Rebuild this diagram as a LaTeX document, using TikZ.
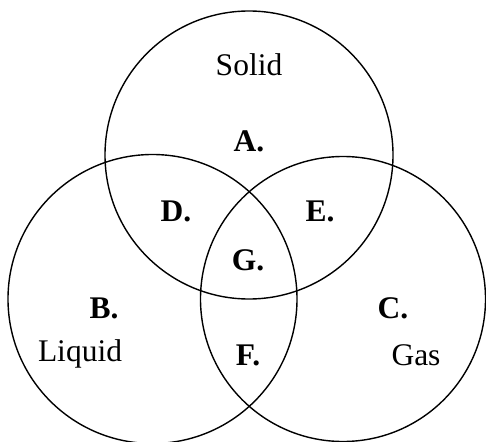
\documentclass[tikz,border=0pt]{standalone}
\usepackage{fontspec}
\setmainfont{Liberation Serif}
\begin{document}
\begin{tikzpicture}[x=1pt,y=-1pt,
  ring/.style={circle,draw,line width=1.4pt,inner sep=0pt,minimum size=#1},
  lbl/.style={font=\fontsize{31.5}{33}\selectfont,inner sep=0pt},
  reg/.style={font=\fontsize{31.5}{33}\selectfont\bfseries,inner sep=0pt}]
\useasboundingbox (0,0) rectangle (486,441);
\clip (0,0) rectangle (486,441);
\node[ring=288pt] (solid) at (249,155) {};
\node[ring=289pt] (liquid) at (152.5,299) {};
\node[ring=285pt] (gas) at (343,299) {};
\node[lbl] (tsolid) at (249,65) {Solid};
\node[lbl] (tliquid) at (80,354) {Liquid};
\node[lbl] (tgas) at (416,355) {Gas};
\node[reg] (a) at (249,141) {A.};
\node[reg] (d) at (176,211) {D.};
\node[reg] (e) at (320,211) {E.};
\node[reg] (g) at (248,260) {G.};
\node[reg] (b) at (104,308) {B.};
\node[reg] (c) at (393,308) {C.};
\node[reg] (f) at (248,355) {F.};
\end{tikzpicture}
\end{document}
